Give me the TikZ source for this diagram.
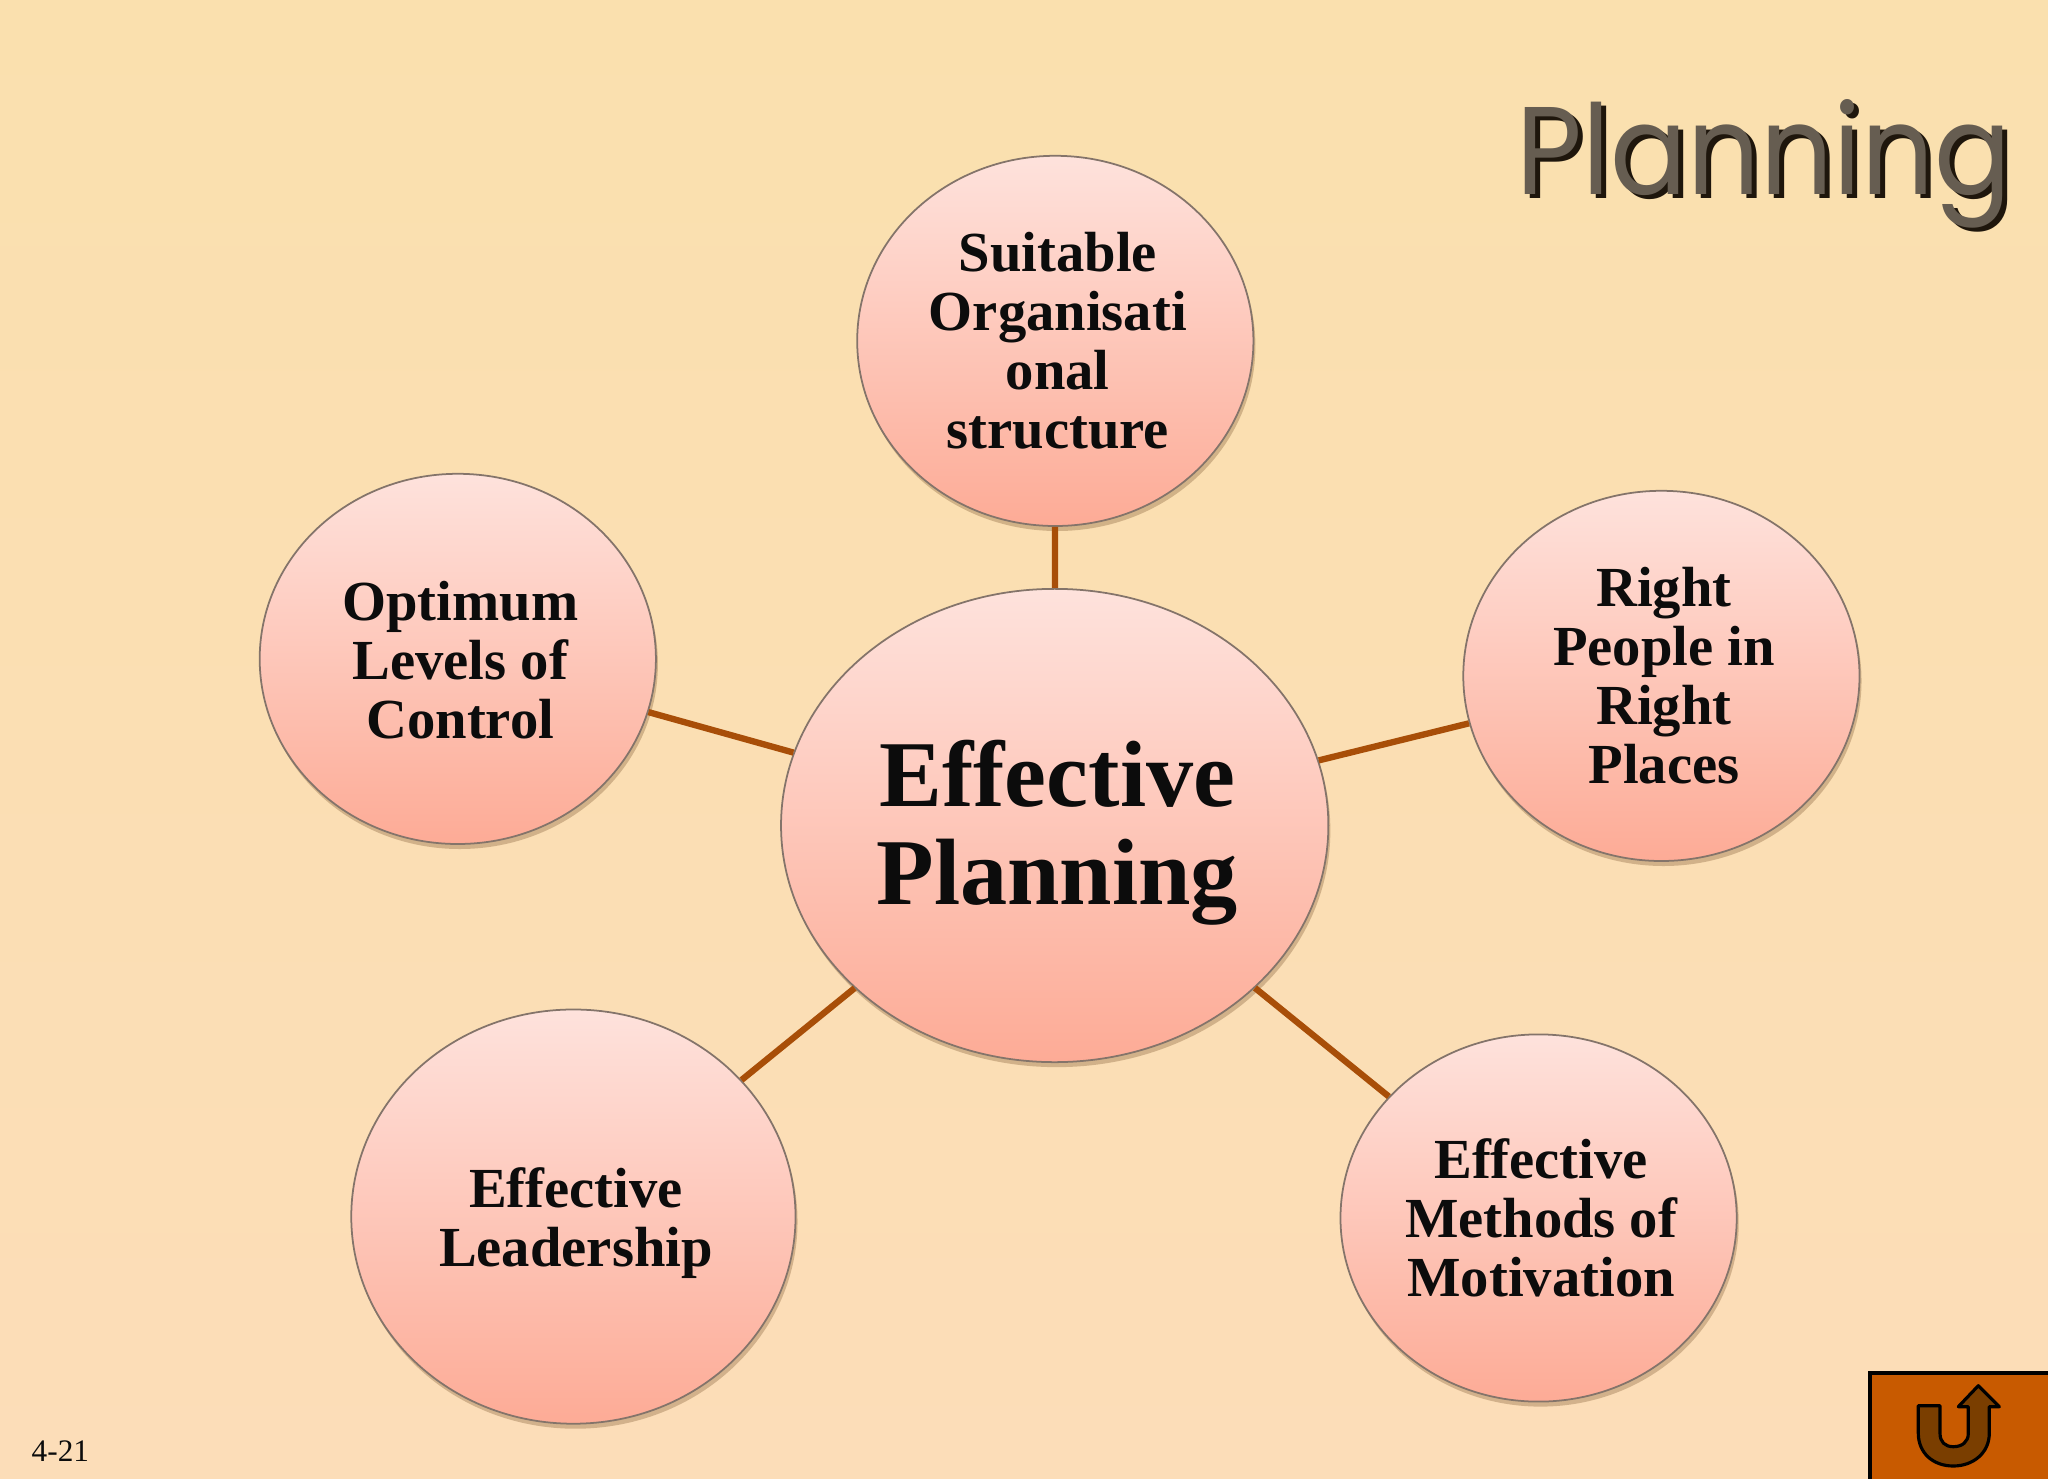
\documentclass[tikz,border=0pt]{standalone}
\usepackage{fontspec}
\usepackage{graphicx}
\setmainfont{Liberation Serif}
\newfontfamily\titlefont{Poppins}
\usetikzlibrary{shapes.geometric,shadows}
\definecolor{bgtop}{HTML}{FAE0AE}
\definecolor{bgbot}{HTML}{FCDDB8}
\definecolor{ballT}{HTML}{FEE2DC}
\definecolor{ballM}{HTML}{FED0C6}
\definecolor{ballB}{HTML}{FDAB96}
\definecolor{ballline}{HTML}{84746A}
\definecolor{linkcol}{HTML}{A84E08}
\definecolor{btnfill}{HTML}{C85A00}
\definecolor{btnarrow}{HTML}{7A3E00}
\definecolor{titlecol}{HTML}{665D51}
\definecolor{titleshadow}{HTML}{1E160C}
\definecolor{inkcol}{HTML}{0C0C0C}
\newcommand{\titleword}{\resizebox{4.94cm}{\height}{Planning}}
\newcommand{\nudge}{\hspace*{0.05cm}}
\tikzset{
  ball/.style={ellipse,draw=ballline,line width=0.5pt,inner sep=0pt,
    top color=ballT,middle color=ballM,bottom color=ballB,
    text=inkcol,align=center,font=\bfseries\fontsize{16.1}{16.75}\selectfont,
    drop shadow={shadow xshift=0.02cm,shadow yshift=-0.05cm,opacity=0.3,fill=brown!60!black}},
  smallball/.style={ball,minimum width=3.96cm,minimum height=3.7cm},
  link/.style={draw=linkcol,line width=1.8pt},
  titletext/.style={anchor=base west,inner sep=0pt,font=\titlefont\fontsize{35.5}{35.5}\selectfont},
}
\begin{document}
\begin{tikzpicture}[x=0.01cm,y=-0.01cm]
\path[use as bounding box,top color=bgtop,bottom color=bgbot] (0,0) rectangle (2048,1479);
% title
\node[titletext,text=titleshadow] (titleback) at (1521,199) {\titleword};
\node[titletext,text=titlecol] (title) at (1516,195) {\titleword};
% nodes
\node[ball,minimum width=5.47cm,minimum height=4.73cm,font=\bfseries\fontsize{26.8}{27.9}\selectfont] (centre) at (1054.7,825.5) {\nudge\rule{0pt}{0.81cm}Effective\\\nudge Planning};
\node[smallball] (top) at (1055.3,340.9) {\nudge Suitable\\\nudge Organisati\\\nudge onal\\\nudge structure};
\node[smallball] (right) at (1661.4,675.9) {\nudge Right\\\nudge People in\\\nudge Right\\\nudge Places};
\node[smallball] (left) at (457.8,658.9) {\nudge\rule{0pt}{0.42cm}Optimum\\\nudge Levels of\\\nudge Control};
\node[ball,minimum width=4.44cm,minimum height=4.14cm] (bl) at (573.4,1216.6) {\nudge\rule{0pt}{0.53cm}Effective\\\nudge Leadership};
\node[smallball,minimum height=3.67cm] (br) at (1538.6,1218) {\nudge Effective\\\nudge Methods of\\\nudge Motivation};
% connectors
\draw[link] (centre) -- (top);
\draw[link] (centre) -- (right);
\draw[link] (centre) -- (left);
\draw[link] (centre) -- (bl);
\draw[link] (centre) -- (br);
% page number
\node[anchor=base west,inner sep=0pt,text=inkcol,font=\fontsize{8.9}{10}\selectfont] (pagenum) at (31,1461) {4-21};
% return button
\path[fill=btnfill,draw=black,line width=0.9pt] (1870,1373) rectangle (2050,1481);
\path[fill=btnarrow,draw=black,line width=0.9pt,line join=round]
  (1918.3,1405.7) -- (1940,1405.7) -- (1940,1433.3)
  .. controls (1940,1442) and (1945,1446.7) .. (1953.3,1446.7)
  .. controls (1962,1446.7) and (1968.3,1442) .. (1968.3,1433.3)
  -- (1968.3,1406.7) -- (1958.3,1406.7) -- (1978.3,1385.7) -- (1999.3,1406.7) -- (1989.3,1406.7) -- (1989.3,1433.3)
  .. controls (1989.3,1453) and (1973,1466) .. (1953.3,1466)
  .. controls (1933,1466) and (1918.3,1453) .. (1918.3,1433.3) -- cycle;
\end{tikzpicture}
\end{document}
